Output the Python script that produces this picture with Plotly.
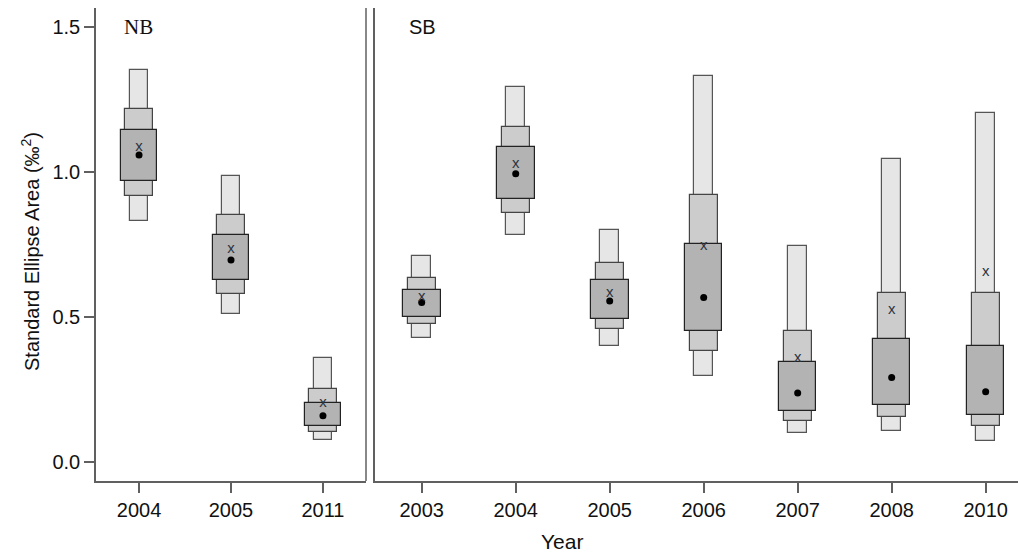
import plotly.graph_objects as go

# ---- data ----
nb_years = ["2004", "2005", "2011"]
nb_l95_lo = [0.832, 0.511, 0.078]
nb_l75_lo = [0.917, 0.579, 0.103]
nb_l50_lo = [0.969, 0.628, 0.124]
nb_l50_hi = [1.146, 0.784, 0.205]
nb_l75_hi = [1.217, 0.851, 0.251]
nb_l95_hi = [1.354, 0.987, 0.361]
nb_mode = [1.059, 0.697, 0.160]
nb_mean = [1.087, 0.733, 0.202]

sb_years = ["2003", "2004", "2005", "2006", "2007", "2008", "2010"]
sb_l95_lo = [0.429, 0.783, 0.402, 0.298, 0.100, 0.107, 0.073]
sb_l75_lo = [0.475, 0.861, 0.459, 0.384, 0.141, 0.156, 0.124]
sb_l50_lo = [0.500, 0.909, 0.495, 0.452, 0.176, 0.198, 0.164]
sb_l50_hi = [0.595, 1.086, 0.630, 0.753, 0.346, 0.424, 0.401]
sb_l75_hi = [0.637, 1.156, 0.686, 0.922, 0.452, 0.582, 0.585]
sb_l95_hi = [0.711, 1.294, 0.800, 1.331, 0.746, 1.045, 1.205]
sb_mode = [0.551, 0.995, 0.556, 0.568, 0.239, 0.292, 0.243]
sb_mean = [0.568, 1.026, 0.584, 0.745, 0.357, 0.524, 0.656]

y_ticks = [0.0, 0.5, 1.0, 1.5]
y_tick_text = ["0.0", "0.5", "1.0", "1.5"]

LIGHT, MID, DARK = "#E6E6E6", "#CCCCCC", "#B3B3B3"

fig = go.Figure()


def add_panel(years, lo95, lo75, lo50, hi50, hi75, hi95, mode, mean, xa, ya):
    levels = [
        (lo95, hi95, 0.2, LIGHT, "#555555"),
        (lo75, hi75, 0.3, MID, "#444444"),
        (lo50, hi50, 0.4, DARK, "#222222"),
    ]
    for lo, hi, w, fill, edge in levels:
        fig.add_trace(go.Bar(
            x=years, base=lo, y=[h - l for h, l in zip(hi, lo)],
            width=w, marker=dict(color=fill, line=dict(color=edge, width=1.2)),
            xaxis=xa, yaxis=ya, showlegend=False, hoverinfo="skip"))
    fig.add_trace(go.Scatter(
        x=years, y=mode, mode="markers",
        marker=dict(color="black", size=7, symbol="circle"),
        xaxis=xa, yaxis=ya, showlegend=False, hoverinfo="skip"))
    fig.add_trace(go.Scatter(
        x=years, y=mean, mode="text", text=["x"] * len(years),
        textposition="middle center",
        textfont=dict(family="Liberation Sans", size=15, color="#2e3440"),
        xaxis=xa, yaxis=ya, showlegend=False, hoverinfo="skip"))


add_panel(nb_years, nb_l95_lo, nb_l75_lo, nb_l50_lo, nb_l50_hi, nb_l75_hi,
          nb_l95_hi, nb_mode, nb_mean, "x", "y")
add_panel(sb_years, sb_l95_lo, sb_l75_lo, sb_l50_lo, sb_l50_hi, sb_l75_hi,
          sb_l95_hi, sb_mode, sb_mean, "x2", "y2")

W, H = 1018, 556
axis_line = "#606060"
font = dict(family="Liberation Sans, Arial, sans-serif", size=20, color="#111")
yr = [-0.0645, 1.566]
plot_h = H - 8 - 75

common_x = dict(type="category", showline=True, linecolor=axis_line, linewidth=1.5,
                ticks="outside", ticklen=10, tickcolor=axis_line, tickwidth=1.5,
                showgrid=False, zeroline=False, tickfont=font, automargin=False,
                fixedrange=True)
common_y = dict(range=yr, showline=True, linecolor=axis_line, linewidth=1.5,
                showgrid=False, zeroline=False, automargin=False, fixedrange=True)

fig.update_layout(
    width=W, height=H,
    margin=dict(l=0, r=0, t=8, b=75),
    paper_bgcolor="white", plot_bgcolor="white",
    barmode="overlay", bargap=0,
    font=font,
    xaxis=dict(domain=[96 / W, 366 / W], range=[-0.468, 2.468], **common_x),
    xaxis2=dict(domain=[375 / W, 1.0], range=[-0.497, 6.344], anchor="y2", **common_x),
    yaxis=dict(domain=[0, 1], anchor="x", tickvals=y_ticks, ticktext=y_tick_text,
               ticks="outside", ticklen=10, tickcolor=axis_line, tickwidth=1.5,
               tickfont=font, **common_y),
    yaxis2=dict(domain=[0, 1], anchor="x2", showticklabels=False, ticks="",
                **common_y),
    shapes=[
        dict(type="line", xref="x domain", yref="y domain", x0=1, x1=1, y0=0, y1=1,
             line=dict(color=axis_line, width=1.5)),
    ],
    annotations=[
        dict(text="Standard Ellipse Area (‰<sup>2</sup>)", textangle=-90,
             xref="paper", yref="paper", x=31 / W, y=1 - (252 - 8) / plot_h,
             showarrow=False, xanchor="center", yanchor="middle", font=font),
        dict(text="NB", xref="paper", yref="paper", x=138 / W, y=1 - (27 - 8) / plot_h,
             showarrow=False, xanchor="center", yanchor="middle",
             font=dict(family="Liberation Serif, Times New Roman, serif", size=21, color="#111")),
        dict(text="SB", xref="paper", yref="paper", x=422 / W, y=1 - (27 - 8) / plot_h,
             showarrow=False, xanchor="center", yanchor="middle", font=font),
        dict(text="Year", xref="paper", yref="paper", x=562 / W, y=-(541 - 481) / plot_h,
             showarrow=False, xanchor="center", yanchor="middle",
             font=dict(family="Liberation Sans, Arial, sans-serif", size=21, color="#111")),
    ],
)

fig.write_html("out.html")
